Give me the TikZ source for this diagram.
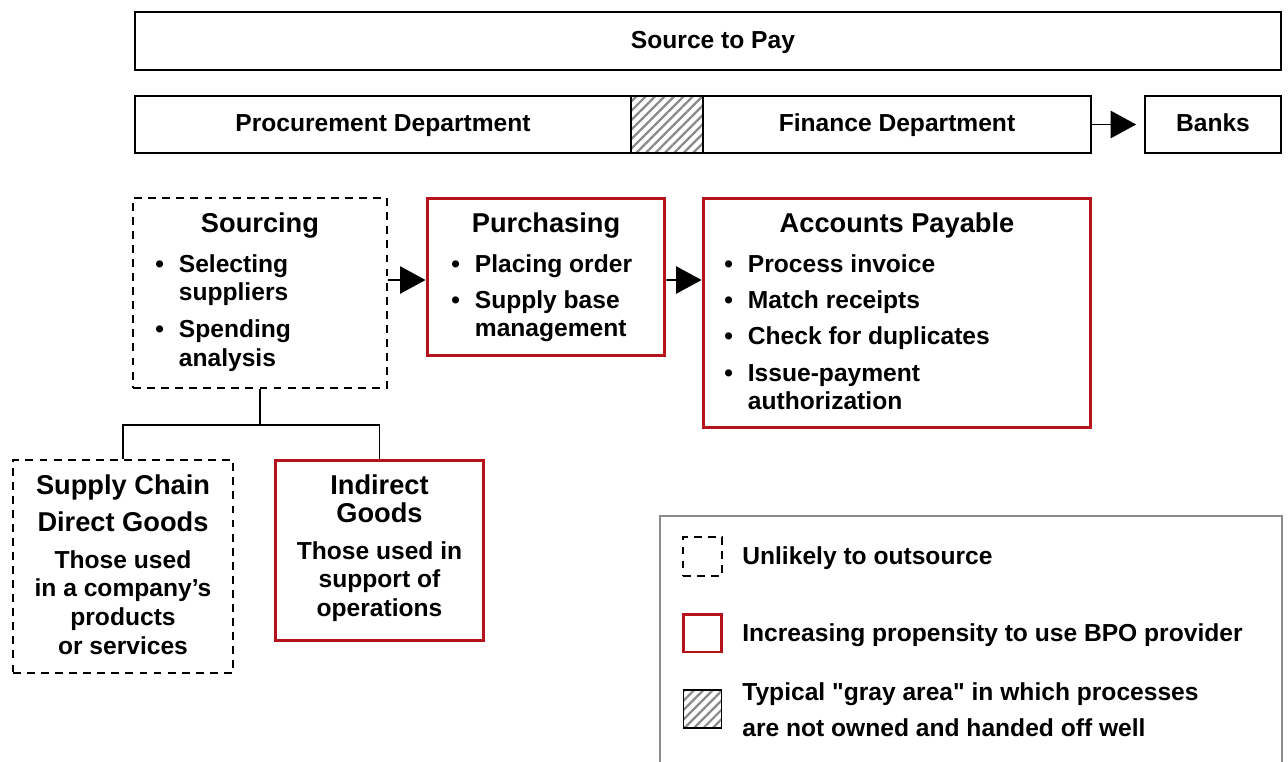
\documentclass[tikz,border=0pt]{standalone}
\usepackage{fontspec}
\setmainfont{Liberation Sans}
\newfontfamily\straightq{Liberation Sans}[Ligatures=TeXOff]
\usepackage{xcolor}
\usepackage{tikz}
\usetikzlibrary{arrows.meta,patterns.meta,positioning}
\definecolor{bpored}{HTML}{B5121B}
\definecolor{legendink}{HTML}{8C8C8C}
\definecolor{hatchink}{HTML}{8A8A8A}

% bullet list and centred stack, first baseline on top
\newcommand{\blist}[1]{\begin{tabular}[t]{@{}c@{\hspace{8.5pt}}l@{}}#1\end{tabular}}
\newcommand{\ctext}[1]{\begin{tabular}[t]{@{}c@{}}#1\end{tabular}}
\newcommand{\dq}{{\straightq"}}

\begin{document}
\begin{tikzpicture}[
  x=0.02cm,
  y=-0.02cm,
  font=\bfseries\fontsize{14}{16}\selectfont,
  box/.style={
    rectangle,
    draw=black,
    line width=1.1pt,
    inner sep=0pt
  },
  barbox/.style={
    box,
    text height=8.5pt,
    text depth=0pt
  },
  dashbox/.style={
    box,
    dash pattern=on 4.5pt off 3.5pt
  },
  redbox/.style={
    box,
    draw=bpored,
    line width=1.7pt
  },
  hatchbox/.style={
    box,
    pattern={Lines[angle=45,distance=3.8pt,line width=1.3pt]},
    pattern color=hatchink
  },
  boxtitle/.style={
    font=\bfseries\fontsize{15.5}{18}\selectfont,
    inner sep=0pt,
    anchor=base
  },
  txt/.style={
    inner sep=0pt,
    anchor=base west
  },
  ctxt/.style={
    inner sep=0pt,
    anchor=base
  },
  arr/.style={
    -{Triangle[length=14.5pt,width=15.5pt]},
    line width=1.1pt
  },
  link/.style={
    line width=1.1pt
  }
]

\useasboundingbox (0,0) rectangle (1288,761);
\clip (0,0) rectangle (1288,761);

% ------------------------------------------------------------
% Top bars
% ------------------------------------------------------------

\node[barbox,minimum width=22.92cm,minimum height=1.16cm] (s2p)
  at (708,41) {\hspace{0.2cm}Source to Pay};

\node[barbox,minimum width=9.92cm,minimum height=1.14cm] (proc)
  at (383,124.5) {Procurement Department};
\node[hatchbox,minimum width=1.44cm,minimum height=1.14cm] (grayzone)
  at (667,124.5) {};
\node[barbox,minimum width=7.76cm,minimum height=1.14cm] (fin)
  at (897,124.5) {Finance Department};
\node[barbox,minimum width=2.72cm,minimum height=1.14cm] (banks)
  at (1213,124.5) {Banks};

\draw[arr,shorten >=4.5pt] (fin.east) -- (banks.west);

% ------------------------------------------------------------
% Process steps
% ------------------------------------------------------------

\node[dashbox,minimum width=5.08cm,minimum height=3.8cm] (src)
  at (260,293) {};
\node[boxtitle] (srctitle) at (260,232) {Sourcing};
\node[txt] (srcitems) at (155,272)
  {\blist{• & Selecting\\ & suppliers\\[5.5pt]
          • & Spending\\ & analysis}};

\node[redbox,minimum width=4.76cm,minimum height=3.16cm] (pur)
  at (546,277) {};
\node[boxtitle] (purtitle) at (546,232) {Purchasing};
\node[txt] (puritems) at (451,272)
  {\blist{• & Placing order\\[4.5pt]
          • & Supply base\\ & management}};

\node[redbox,minimum width=7.76cm,minimum height=4.6cm] (ap)
  at (897,313) {};
\node[boxtitle] (aptitle) at (897,232) {Accounts Payable};
\node[txt] (apitems) at (724,272)
  {\blist{• & Process invoice\\[4.5pt]
          • & Match receipts\\[4.5pt]
          • & Check for duplicates\\[5.5pt]
          • & Issue-payment\\ & authorization}};

\draw[arr] ([yshift=0.26cm]src.east) -- ([yshift=-0.06cm]pur.west);
\draw[arr] ([yshift=-0.06cm]pur.east) -- ([yshift=0.66cm]ap.west);

% ------------------------------------------------------------
% Goods under sourcing
% ------------------------------------------------------------

\node[dashbox,minimum width=4.4cm,minimum height=4.26cm] (direct)
  at (123,566.5) {};
\node[boxtitle] (directtitle) at (123,494)
  {\ctext{Supply Chain\\[3.5pt] Direct Goods}};
\node[ctxt] (directtxt) at (123,568)
  {\ctext{Those used\\[0.5pt] in a company’s\\[0.5pt] products\\[0.5pt] or services}};

\node[redbox,minimum width=4.18cm,minimum height=3.62cm] (indirect)
  at (379.5,550.5) {};
\node[boxtitle] (indirecttitle) at (379.5,494)
  {\ctext{Indirect\\[-1.5pt] Goods}};
\node[ctxt] (indirecttxt) at (379.5,559)
  {\ctext{Those used in\\[0.5pt] support of\\[0.5pt] operations}};

\draw[link] (src.south) -- ++(0,36) coordinate (fork) -| (direct.north);
\draw[link] (fork) -| (indirect.north);

% ------------------------------------------------------------
% Legend
% ------------------------------------------------------------

\node[box,draw=legendink,anchor=north west,
      minimum width=12.44cm,minimum height=5.6cm] (legend)
  at (659,515) {};

\node[dashbox,minimum size=0.78cm] (keydash) at (702.5,556.5) {};
\node[redbox,minimum size=0.76cm] (keyred) at (702.5,633) {};
\node[hatchbox,minimum size=0.76cm] (keyhatch) at (702.5,709) {};

\node[txt] (keydashtxt) at (742,564) {Unlikely to outsource};
\node[txt] (keyredtxt) at (742,641) {Increasing propensity to use BPO provider};
\node[txt] (keyhatchtxt) at (742,700)
  {\begin{tabular}[t]{@{}l@{}}Typical \dq gray area\dq{} in which processes\\[5pt]
   are not owned and handed off well\end{tabular}};
\end{tikzpicture}
\end{document}
